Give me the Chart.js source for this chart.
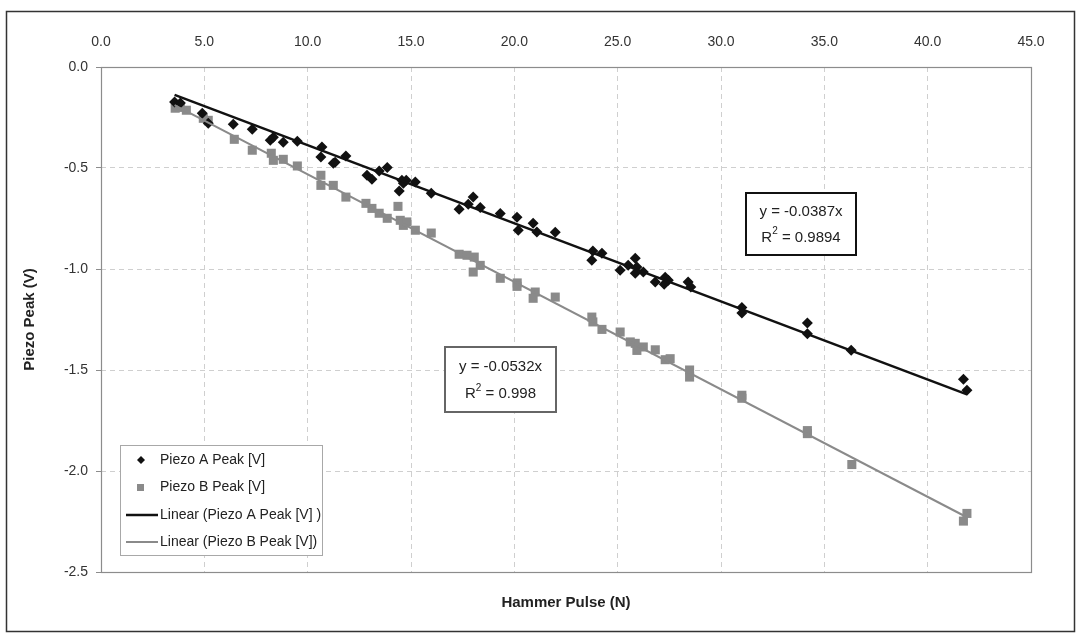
<!DOCTYPE html>
<html>
<head>
<meta charset="utf-8">
<script src="https://cdn.jsdelivr.net/npm/chart.js@4.4.1/dist/chart.umd.min.js"></script>
<style>
  html, body { margin: 0; padding: 0; background: #fff; }
  #wrap { width: 1081px; height: 635px; position: relative; }
</style>
</head>
<body>
<div id="wrap"><canvas id="chart" width="1081" height="635"></canvas></div>
<script>
'use strict';

/* ---- data ---- */
const pulseA = [3.56, 3.84, 4.90, 5.19, 6.40, 7.32, 8.19, 8.34, 8.82, 9.50,
  10.69, 10.64, 11.24, 11.33, 11.85, 12.87, 13.11, 13.46, 13.85, 14.56,
  14.63, 14.43, 14.77, 15.21, 15.98, 17.33, 17.77, 18.01, 18.35, 19.32,
  20.13, 20.19, 20.91, 21.09, 21.98, 23.80, 23.75, 24.24, 25.12, 25.51,
  25.85, 25.93, 25.85, 26.24, 26.82, 27.30, 27.45, 27.25, 28.41, 28.54,
  31.01, 31.01, 34.18, 34.18, 36.30, 41.73, 41.90];
const peakA = [-0.173, -0.178, -0.229, -0.279, -0.284, -0.308, -0.363, -0.348, -0.373, -0.368,
  -0.396, -0.446, -0.477, -0.472, -0.441, -0.536, -0.556, -0.515, -0.497, -0.561,
  -0.576, -0.614, -0.561, -0.569, -0.625, -0.704, -0.680, -0.644, -0.695, -0.725,
  -0.744, -0.808, -0.774, -0.817, -0.818, -0.911, -0.957, -0.922, -1.006, -0.982,
  -0.947, -0.990, -1.021, -1.015, -1.064, -1.041, -1.056, -1.076, -1.064, -1.089,
  -1.191, -1.218, -1.267, -1.320, -1.402, -1.546, -1.600];

const pulseB = [3.59, 3.84, 4.13, 4.95, 5.19, 6.45, 7.32, 8.24, 8.34, 8.82,
  9.50, 10.64, 10.64, 11.24, 11.85, 12.82, 13.11, 13.46, 13.85, 14.37,
  14.48, 14.63, 14.80, 15.21, 15.98, 17.33, 17.71, 18.06, 18.35, 18.01,
  19.32, 20.14, 20.13, 21.01, 20.91, 21.98, 23.75, 23.80, 24.24, 25.12,
  25.61, 25.85, 25.93, 26.24, 26.82, 27.30, 27.54, 28.48, 28.48, 31.01,
  31.01, 34.18, 34.18, 36.33, 41.90, 41.73];
const peakB = [-0.204, -0.200, -0.214, -0.254, -0.264, -0.358, -0.412, -0.427, -0.462, -0.457,
  -0.490, -0.536, -0.586, -0.586, -0.644, -0.675, -0.700, -0.724, -0.749, -0.690,
  -0.759, -0.784, -0.767, -0.808, -0.822, -0.927, -0.932, -0.941, -0.982, -1.015,
  -1.046, -1.069, -1.086, -1.114, -1.145, -1.139, -1.238, -1.262, -1.299, -1.312,
  -1.361, -1.368, -1.403, -1.386, -1.400, -1.449, -1.444, -1.500, -1.535, -1.625,
  -1.640, -1.800, -1.815, -1.968, -2.210, -2.248];

// trendline end points (y = -0.0387x and y = -0.0532x over the data range)
const trendX = [3.56, 41.9];
const trendA = [-0.138, -1.621];
const trendB = [-0.189, -2.229];

const xTicks = [0, 5, 10, 15, 20, 25, 30, 35, 40, 45];
const yTicks = [0, -0.5, -1, -1.5, -2, -2.5];

const FONT = "'Liberation Sans', Arial, sans-serif";
const GREY = '#8a8a8a';

const toPoints = (xs, ys) => xs.map((x, i) => ({ x, y: ys[i] }));

/* ---- frame, legend and equation boxes ---- */
const decor = {
  id: 'decor',
  beforeDraw(chart) {
    const { ctx, width, height } = chart;
    ctx.save();
    ctx.fillStyle = '#fff';
    ctx.fillRect(0, 0, width, height);
    ctx.strokeStyle = '#333';
    ctx.lineWidth = 1.5;
    ctx.strokeRect(6.5, 11.5, 1068, 620);
    ctx.restore();
  },
  beforeDatasetsDraw(chart) {
    const { ctx, chartArea: a } = chart;
    ctx.save();
    ctx.strokeStyle = '#8c8c8c';
    ctx.lineWidth = 1.2;
    ctx.strokeRect(a.left + 0.5, a.top + 0.5, a.right - a.left, a.bottom - a.top);
    ctx.restore();
  },
  afterDraw(chart) {
    const { ctx } = chart;
    ctx.save();

    // legend
    ctx.fillStyle = '#fff';
    ctx.fillRect(120, 445, 202, 110);
    ctx.strokeStyle = '#a8a8a8';
    ctx.lineWidth = 1;
    ctx.strokeRect(120.5, 445.5, 202, 110);

    ctx.font = '14px ' + FONT;
    ctx.fillStyle = '#222';
    ctx.textBaseline = 'middle';
    ctx.textAlign = 'left';
    const rows = [
      ['Piezo A Peak [V]', 460],
      ['Piezo B Peak [V]', 487],
      ['Linear (Piezo A Peak [V] )', 515],
      ['Linear (Piezo B Peak [V])', 542]
    ];
    rows.forEach(([t, y]) => ctx.fillText(t, 160, y));

    ctx.fillStyle = '#111';
    ctx.beginPath();
    ctx.moveTo(141, 456); ctx.lineTo(145, 460); ctx.lineTo(141, 464); ctx.lineTo(137, 460);
    ctx.closePath();
    ctx.fill();
    ctx.fillStyle = GREY;
    ctx.fillRect(137, 484, 7, 7);

    ctx.lineWidth = 2.5;
    ctx.strokeStyle = '#111';
    ctx.beginPath(); ctx.moveTo(126, 515); ctx.lineTo(158, 515); ctx.stroke();
    ctx.lineWidth = 2;
    ctx.strokeStyle = GREY;
    ctx.beginPath(); ctx.moveTo(126, 542); ctx.lineTo(158, 542); ctx.stroke();

    // equation boxes
    const eqBox = (x, y, w, h, col, eq, r2) => {
      ctx.fillStyle = '#fff';
      ctx.fillRect(x, y, w, h);
      ctx.strokeStyle = col;
      ctx.lineWidth = 2;
      ctx.strokeRect(x, y, w, h);
      const cx = x + w / 2;
      ctx.fillStyle = '#222';
      ctx.font = '15px ' + FONT;
      ctx.textAlign = 'center';
      ctx.fillText(eq, cx, y + h * 0.31);
      const rest = ' = ' + r2;
      const wR = ctx.measureText('R').width;
      const wRest = ctx.measureText(rest).width;
      ctx.font = '10px ' + FONT;
      const w2 = ctx.measureText('2').width;
      let sx = cx - (wR + w2 + wRest) / 2;
      const ly = y + h * 0.72;
      ctx.textAlign = 'left';
      ctx.font = '15px ' + FONT;
      ctx.fillText('R', sx, ly);
      ctx.font = '10px ' + FONT;
      ctx.fillText('2', sx + wR, ly - 6);
      ctx.font = '15px ' + FONT;
      ctx.fillText(rest, sx + wR + w2, ly);
    };
    eqBox(746, 193, 110, 62, '#111', 'y = -0.0387x', '0.9894');
    eqBox(445, 347, 111, 65, '#666', 'y = -0.0532x', '0.998');

    ctx.restore();
  }
};

new Chart(document.getElementById('chart'), {
  type: 'scatter',
  data: {
    datasets: [
      {
        label: 'Linear (Piezo A Peak [V] )',
        data: toPoints(trendX, trendA),
        showLine: true,
        borderColor: '#111',
        borderWidth: 2.5,
        pointRadius: 0,
        order: 0
      },
      {
        label: 'Linear (Piezo B Peak [V])',
        data: toPoints(trendX, trendB),
        showLine: true,
        borderColor: GREY,
        borderWidth: 2,
        pointRadius: 0,
        order: 0
      },
      {
        label: 'Piezo A Peak [V]',
        data: toPoints(pulseA, peakA),
        pointStyle: 'rectRot',
        pointRadius: 5.5,
        backgroundColor: '#111',
        borderColor: '#111',
        borderWidth: 0,
        order: 1
      },
      {
        label: 'Piezo B Peak [V]',
        data: toPoints(pulseB, peakB),
        pointStyle: 'rect',
        pointRadius: 6.4,
        backgroundColor: GREY,
        borderColor: GREY,
        borderWidth: 0,
        order: 2
      }
    ]
  },
  options: {
    responsive: false,
    animation: false,
    events: [],
    layout: { padding: { left: 6, top: 12, right: 50, bottom: 3 } },
    plugins: {
      legend: { display: false },
      tooltip: { enabled: false }
    },
    scales: {
      x: {
        type: 'linear',
        position: 'top',
        min: 0,
        max: 45,
        afterBuildTicks(scale) { scale.ticks = xTicks.map(v => ({ value: v })); },
        afterFit(scale) { scale.height = 55; },
        ticks: {
          padding: 16,
          color: '#333',
          font: { family: FONT, size: 14 },
          callback: v => v.toFixed(1)
        },
        grid: { color: '#cfcfcf', drawTicks: false, lineWidth: 1 },
        border: { display: false, dash: [5, 4] }
      },
      x2: {
        type: 'linear',
        position: 'bottom',
        min: 0,
        max: 45,
        afterFit(scale) { scale.height = 60; },
        ticks: { display: false },
        grid: { display: false },
        border: { display: false },
        title: {
          display: true,
          text: 'Hammer Pulse (N)',
          color: '#222',
          font: { family: FONT, size: 15, weight: 'bold' },
          padding: { top: 0, bottom: 20 }
        }
      },
      y: {
        type: 'linear',
        min: -2.5,
        max: 0,
        afterBuildTicks(scale) { scale.ticks = yTicks.map(v => ({ value: v })); },
        afterFit(scale) { scale.width = 95; },
        ticks: {
          padding: 8,
          color: '#333',
          font: { family: FONT, size: 14 },
          callback: v => v.toFixed(1)
        },
        grid: {
          color: '#cfcfcf',
          tickColor: '#8c8c8c',
          tickLength: 5,
          tickBorderDash: [],
          lineWidth: 1
        },
        border: { display: false, dash: [5, 4] },
        title: {
          display: true,
          text: 'Piezo Peak (V)',
          color: '#222',
          font: { family: FONT, size: 15, weight: 'bold' },
          padding: { top: 15, bottom: 0 }
        }
      }
    }
  },
  plugins: [decor]
});
</script>
</body>
</html>
